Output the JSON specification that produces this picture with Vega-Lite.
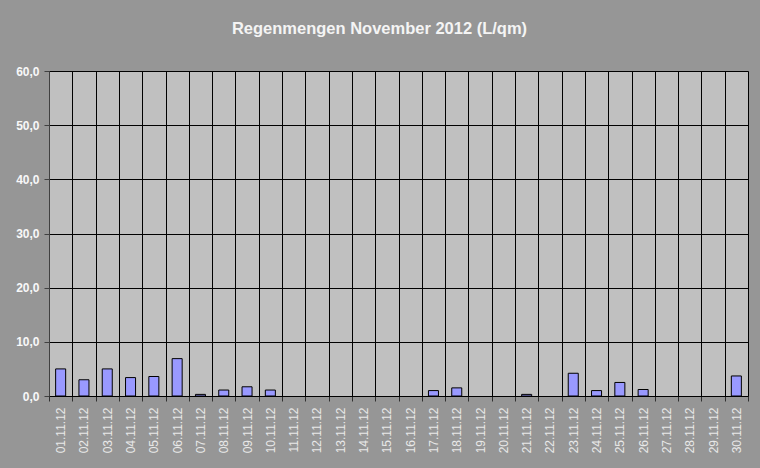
{
  "$schema": "https://vega.github.io/schema/vega-lite/v6.json",
  "width": 699,
  "height": 325,
  "autosize": {"type": "none"},
  "padding": {"left": 49, "top": 71, "right": 12, "bottom": 72},
  "background": "#969696",
  "title": {
    "text": "Regenmengen November 2012 (L/qm)",
    "font": "Liberation Sans",
    "fontSize": 16.5,
    "fontWeight": "bold",
    "color": "#f4f4f4",
    "anchor": "middle",
    "baseline": "alphabetic",
    "offset": 15,
    "dx": -19
  },
  "config": {
    "view": {"fill": "#c0c0c0", "stroke": null},
    "font": "Liberation Sans"
  },
  "data": {
    "values": [
      {"datum": "01.11.12", "mm": 5.0},
      {"datum": "02.11.12", "mm": 3.0},
      {"datum": "03.11.12", "mm": 5.0},
      {"datum": "04.11.12", "mm": 3.4},
      {"datum": "05.11.12", "mm": 3.6},
      {"datum": "06.11.12", "mm": 6.9},
      {"datum": "07.11.12", "mm": 0.3},
      {"datum": "08.11.12", "mm": 1.1},
      {"datum": "09.11.12", "mm": 1.7},
      {"datum": "10.11.12", "mm": 1.1},
      {"datum": "11.11.12", "mm": 0},
      {"datum": "12.11.12", "mm": 0},
      {"datum": "13.11.12", "mm": 0},
      {"datum": "14.11.12", "mm": 0},
      {"datum": "15.11.12", "mm": 0},
      {"datum": "16.11.12", "mm": 0},
      {"datum": "17.11.12", "mm": 1.0},
      {"datum": "18.11.12", "mm": 1.5},
      {"datum": "19.11.12", "mm": 0},
      {"datum": "20.11.12", "mm": 0},
      {"datum": "21.11.12", "mm": 0.3},
      {"datum": "22.11.12", "mm": 0},
      {"datum": "23.11.12", "mm": 4.2},
      {"datum": "24.11.12", "mm": 1.0},
      {"datum": "25.11.12", "mm": 2.5},
      {"datum": "26.11.12", "mm": 1.2},
      {"datum": "27.11.12", "mm": 0},
      {"datum": "28.11.12", "mm": 0},
      {"datum": "29.11.12", "mm": 0},
      {"datum": "30.11.12", "mm": 3.7}
    ]
  },
  "mark": {
    "type": "bar",
    "fill": "#9999ff",
    "stroke": "#000000",
    "strokeWidth": 1,
    "width": {"band": 0.43}
  },
  "encoding": {
    "x": {
      "field": "datum",
      "type": "ordinal",
      "sort": null,
      "scale": {"paddingInner": 0, "paddingOuter": 0},
      "axis": {
        "title": null,
        "tickBand": "extent",
        "grid": true,
        "gridColor": "#000000",
        "gridWidth": 1,
        "gridOpacity": 1,
        "domainColor": "#000000",
        "domainWidth": 1,
        "tickColor": "#303030",
        "tickSize": 5,
        "labelAngle": 270,
        "labelFontSize": 12,
        "labelColor": "#e8e8e8",
        "labelPadding": 6
      }
    },
    "y": {
      "field": "mm",
      "type": "quantitative",
      "scale": {"domain": [0, 60], "nice": false},
      "axis": {
        "title": null,
        "values": [0, 10, 20, 30, 40, 50, 60],
        "labelExpr": "replace(format(datum.value, '.1f'), '.', ',')",
        "grid": true,
        "gridColor": "#000000",
        "gridWidth": 1,
        "gridOpacity": 1,
        "domainColor": "#404040",
        "tickColor": "#404040",
        "tickSize": 5,
        "labelFontSize": 12,
        "labelFontWeight": "bold",
        "labelColor": "#f8f8f8",
        "labelPadding": 5
      }
    },
    "strokeOpacity": {
      "condition": {"test": "datum.mm > 0", "value": 1},
      "value": 0
    }
  }
}
